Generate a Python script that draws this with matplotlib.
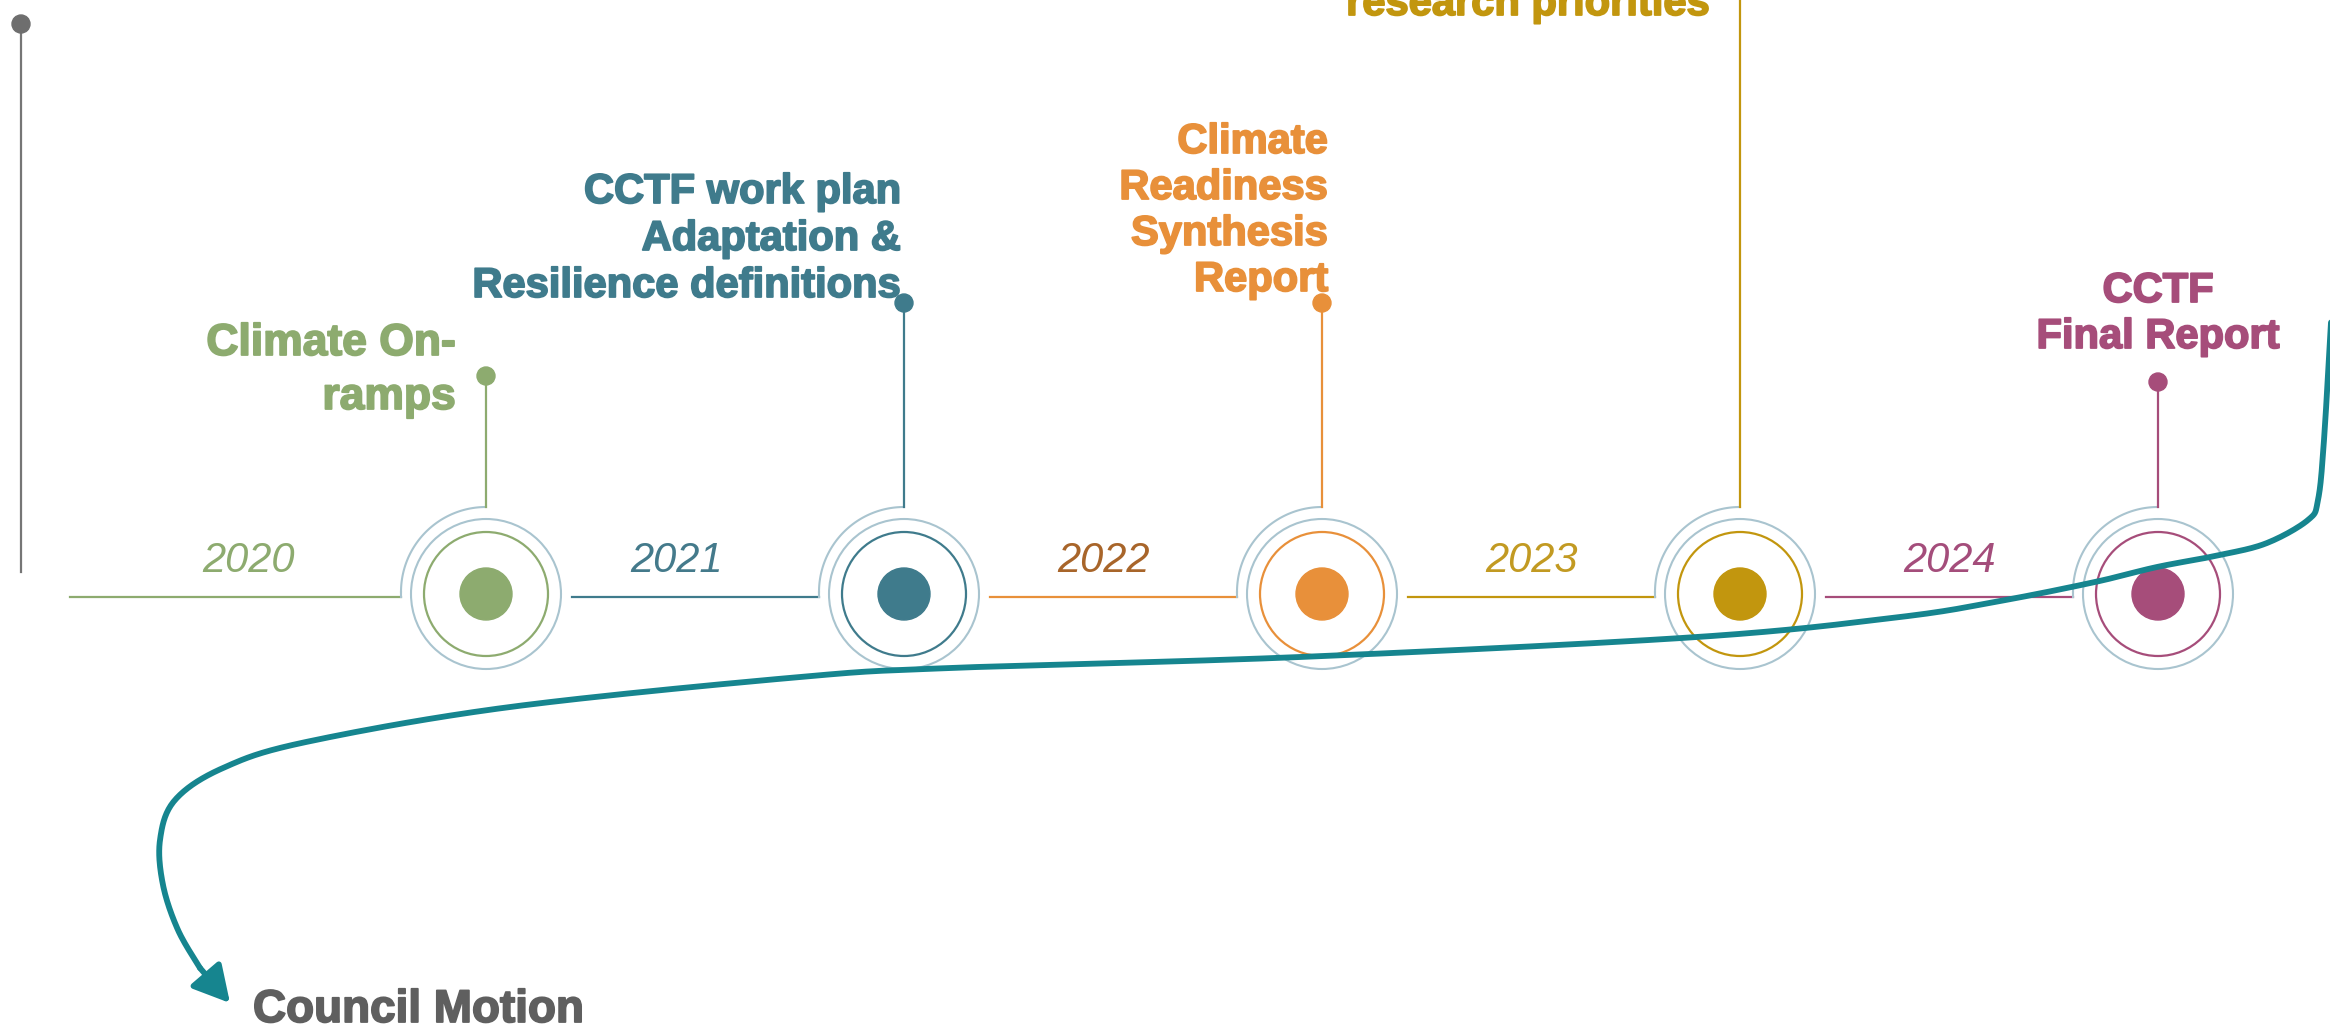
import numpy as np
import matplotlib.pyplot as plt
import matplotlib.patheffects as pe
from matplotlib.patches import Circle

plt.rcParams['font.family'] = ['Liberation Sans', 'DejaVu Sans']

# timeline content
years = ["2020", "2021", "2022", "2023", "2024"]
year_colors = ["#8dab6f", "#447a8b", "#a8652a", "#c29a22", "#a44d7b"]
node_colors = ["#8dab6f", "#3f7b8c", "#e8903a", "#c2960e", "#a64d7a"]
milestones = [
    ["Climate On-", "ramps"],
    ["CCTF work plan", "Adaptation &", "Resilience definitions"],
    ["Climate", "Readiness", "Synthesis", "Report"],
    ["research priorities"],
    ["CCTF", "Final Report"],
]
start_label = "Council Motion"

# layout (pixel units, y down)
W, H = 2330, 1031
node_x0, node_step, node_y = 486, 418, 594
stem_top = [376, 303, 303, -40, 382]
year_dx = [13, -19, -10, 0, 0]
label_dx = [-30, -3, 6, -30, 0]
label_ha = ["right", "right", "right", "right", "center"]
label_size = [32, 30, 30, 30, 30]
label_y0 = [355, 203, 153, 15, 302]
label_gap = [54, 47, 46, 46, 46]
ring_col = "#a9c4cf"
curve_col = "#16858f"

# path of the big arrow (decoration)
arrow_x = [2332, 2324, 2318, 2308, 2267, 2220, 2157, 2095, 2000, 1900, 1697, 1300, 950, 800, 510, 306, 223, 175, 160, 163, 178, 200]
arrow_y = [305, 440, 500, 520, 543, 555, 567, 582, 601, 617, 637, 657, 668, 677, 707, 742, 768, 800, 840, 885, 930, 968]
arrow_tip = (230, 1003)


def catmull(xs, ys, n=20):
    p = np.column_stack([xs, ys]).astype(float)
    p = np.vstack([p[0], p, p[-1]])
    out = []
    for i in range(1, len(p) - 2):
        p0, p1, p2, p3 = p[i - 1], p[i], p[i + 1], p[i + 2]
        t = np.linspace(0, 1, n, endpoint=False)[:, None]
        out.append(0.5 * ((2 * p1) + (-p0 + p2) * t + (2 * p0 - 5 * p1 + 4 * p2 - p3) * t ** 2
                          + (-p0 + 3 * p1 - 3 * p2 + p3) * t ** 3))
    out.append(p[-2][None, :])
    return np.vstack(out)


fig = plt.figure(figsize=(W / 100, H / 100), dpi=100)
ax = fig.add_axes([0, 0, 1, 1])
ax.set_xlim(0, W)
ax.set_ylim(H, 0)
ax.axis("off")

# grey start marker at top left
ax.plot([21, 21], [24, 572], color="#767676", lw=1.6, zorder=2)
ax.add_patch(Circle((21, 24), 9, color="#6e6e6e", zorder=3))

for i, yr in enumerate(years):
    cx = node_x0 + i * node_step
    col = node_colors[i]
    seg_start = 70 if i == 0 else cx - node_step + 86
    seg_end = cx - 85
    ax.plot([seg_start, seg_end], [node_y + 3, node_y + 3], color=col, lw=1.6, zorder=2)
    # connector arc up into the stem
    t = np.linspace(np.pi, np.pi / 2, 60)
    ax.plot([seg_end, seg_end], [node_y + 3, node_y - 2], color=ring_col, lw=1.5, zorder=2)
    ax.plot(cx + 85 * np.cos(t), node_y - 2 - 85 * np.sin(t), color=ring_col, lw=1.5, zorder=2)
    # stem and small dot
    ax.plot([cx, cx], [node_y - 87, stem_top[i]], color=col, lw=1.6, zorder=2)
    ax.add_patch(Circle((cx, stem_top[i]), 9, color=col, zorder=3))
    # node rings
    ax.add_patch(Circle((cx, node_y), 75, fill=False, ec=ring_col, lw=1.5, zorder=2))
    ax.add_patch(Circle((cx, node_y), 62, fill=False, ec=col, lw=1.6, zorder=2))
    ax.add_patch(Circle((cx, node_y), 26, color=col, zorder=3))
    # year label
    ax.text((seg_start + seg_end) / 2 + year_dx[i], node_y - 22, yr, color=year_colors[i],
            fontsize=30, style="italic", ha="center", va="baseline", zorder=4)
    # milestone label (stroked a little to get the heavy look)
    for j, line in enumerate(milestones[i]):
        ax.text(cx + label_dx[i], label_y0[i] + j * label_gap[i], line, color=col,
                fontsize=label_size[i], fontweight="bold", ha=label_ha[i], va="baseline", zorder=4,
                path_effects=[pe.withStroke(linewidth=1.3, foreground=col)])

# big arrow sweeping back to the start
pts = catmull(arrow_x, arrow_y)
ax.plot(pts[:, 0], pts[:, 1], color=curve_col, lw=4.2, solid_capstyle="round", zorder=5)
ax.annotate("", xy=arrow_tip, xytext=(arrow_x[-1], arrow_y[-1]),
            arrowprops=dict(arrowstyle="-|>,head_length=1.1,head_width=0.6", mutation_scale=20,
                            color=curve_col, lw=4.2, shrinkA=0, shrinkB=0), zorder=5)
ax.text(253, 1022, start_label, color="#5f5f5f", fontsize=33, fontweight="bold",
        ha="left", va="baseline", zorder=4,
        path_effects=[pe.withStroke(linewidth=1.3, foreground="#5f5f5f")])

fig.savefig("out.png", dpi=100, facecolor="white")
